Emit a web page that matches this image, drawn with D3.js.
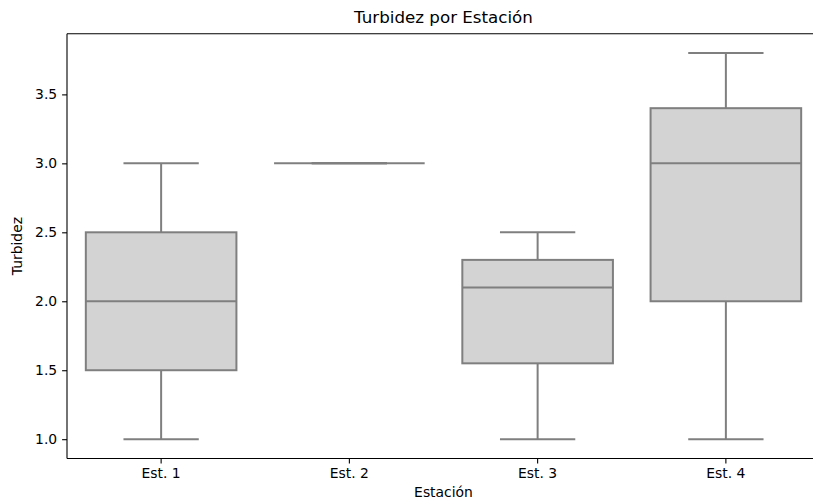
<!DOCTYPE html>
<html><head><meta charset="utf-8">
<script src="https://cdn.jsdelivr.net/npm/d3@7"></script>
<style>html,body{margin:0;padding:0;background:#fff;overflow:hidden;} svg{display:block;} text{font-family:"DejaVu Sans",sans-serif;}</style>
</head><body>
<script>
const categories = ["Est. 1", "Est. 2", "Est. 3", "Est. 4"];
const whiskLow  = [1.0, 3.0, 1.0, 1.0];
const q1        = [1.5, 3.0, 1.55, 2.0];
const median    = [2.0, 3.0, 2.1, 3.0];
const q3        = [2.5, 3.0, 2.3, 3.4];
const whiskHigh = [3.0, 3.0, 2.5, 3.8];
const yTicks = [1.0, 1.5, 2.0, 2.5, 3.0, 3.5];

const W = 813, H = 501;
const m = {left: 67, right: 820, top: 33.7, bottom: 458.5};
const svg = d3.select("body").append("svg").attr("width", W).attr("height", H);

const x = d3.scaleBand().domain(categories).range([m.left, m.right]).paddingInner(0).paddingOuter(0);
const y = d3.scaleLinear().domain([0.86, 3.94]).range([m.bottom, m.top]);

const edge = "#7f7f7f", fill = "#d3d3d3", lw = 2;
const bw = x.bandwidth() * 0.8;
const data = categories.map((c, i) => ({c, lo: whiskLow[i], q1: q1[i], med: median[i], q3: q3[i], hi: whiskHigh[i]}));

const g = svg.append("g");
data.forEach(d => {
  const cx = x(d.c) + x.bandwidth() / 2;
  g.append("line").attr("x1", cx).attr("x2", cx).attr("y1", y(d.lo)).attr("y2", y(d.q1)).attr("stroke", edge).attr("stroke-width", lw);
  g.append("line").attr("x1", cx).attr("x2", cx).attr("y1", y(d.q3)).attr("y2", y(d.hi)).attr("stroke", edge).attr("stroke-width", lw);
  [d.lo, d.hi].forEach(v => {
    g.append("line").attr("x1", cx - bw / 4).attr("x2", cx + bw / 4).attr("y1", y(v)).attr("y2", y(v)).attr("stroke", edge).attr("stroke-width", lw);
  });
  g.append("rect").attr("x", cx - bw / 2).attr("width", bw)
    .attr("y", y(d.q3)).attr("height", Math.max(0, y(d.q1) - y(d.q3)))
    .attr("fill", fill).attr("stroke", edge).attr("stroke-width", lw);
  g.append("line").attr("x1", cx - bw / 2).attr("x2", cx + bw / 2).attr("y1", y(d.med)).attr("y2", y(d.med)).attr("stroke", edge).attr("stroke-width", lw);
});

const yAxis = d3.axisLeft(y).tickValues(yTicks).tickFormat(d3.format(".1f")).tickSize(4.9).tickPadding(4.9);
const ya = svg.append("g").attr("transform", `translate(${m.left},0)`).call(yAxis);
const xAxis = d3.axisBottom(x).tickSize(4.9).tickPadding(4.9);
const xa = svg.append("g").attr("transform", `translate(0,${m.bottom})`).call(xAxis);
[ya, xa].forEach(a => {
  a.select(".domain").remove();
  a.selectAll(".tick line").attr("stroke", "#000").attr("stroke-width", 1.1);
  a.selectAll(".tick text").attr("fill", "#000").style("font-size", "13.9px").style("font-family", "DejaVu Sans");
});
const spineEnd = W;
svg.append("line").attr("x1", m.left).attr("x2", m.left).attr("y1", m.top).attr("y2", m.bottom).attr("stroke", "#000").attr("stroke-width", 1.1);
svg.append("line").attr("x1", m.left).attr("x2", spineEnd).attr("y1", m.bottom).attr("y2", m.bottom).attr("stroke", "#000").attr("stroke-width", 1.1);
svg.append("line").attr("x1", m.left).attr("x2", spineEnd).attr("y1", m.top).attr("y2", m.top).attr("stroke", "#000").attr("stroke-width", 1.1);

const cxAx = (m.left + m.right) / 2;
svg.append("text").attr("x", cxAx).attr("y", 23).attr("text-anchor", "middle").style("font-size", "16.7px").attr("fill", "#000").text("Turbidez por Estación");
svg.append("text").attr("x", cxAx).attr("y", 497).attr("text-anchor", "middle").style("font-size", "13.9px").attr("fill", "#000").text("Estación");
svg.append("text").attr("transform", `translate(22,${(m.top + m.bottom) / 2}) rotate(-90)`).attr("text-anchor", "middle").style("font-size", "13.9px").attr("fill", "#000").text("Turbidez");
</script>
</body></html>
